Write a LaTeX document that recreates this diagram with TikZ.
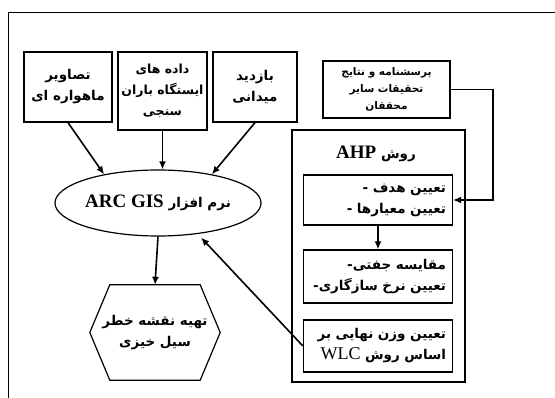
\documentclass[tikz,border=0pt]{standalone}
\usepackage{fontspec}
\usetikzlibrary{arrows.meta,shapes.geometric}
\TeXXeTstate=1
\newfontfamily\farsi[Script=Arabic]{DejaVu Sans}
\newfontfamily\latin{Liberation Serif}
\newcommand{\rtl}[1]{\beginR #1\endR}
\newcommand{\ltr}[1]{\beginL{\latin #1}\endL}

\begin{document}
\begin{tikzpicture}[
  x=1pt, y=-1pt,
  every node/.style={font=\farsi\bfseries\fontsize{13.5}{21}\selectfont},
  box/.style={draw, line width=1.2pt, rectangle, inner sep=0pt, align=center},
  small/.style={font=\farsi\bfseries\fontsize{10.5}{17}\selectfont},
  arr/.style={-{Latex[length=8pt,width=7pt]}, line width=1.6pt}
]
\useasboundingbox (0,0) rectangle (555,398);

% frame
\draw[line width=0.9pt] (555,12) -- (8,12) -- (8,398);

% Data sources (top row)
\node[box, minimum width=88pt, minimum height=70pt] (sat) at (68,87) {\rtl{تصاویر}\\\rtl{ماهواره ای}};
\node[box, font=\farsi\bfseries\fontsize{12.5}{21}\selectfont, minimum width=89pt, minimum height=78pt] (rain) at (162.5,91) {\rtl{داده های}\\\rtl{ایستگاه باران}\\\rtl{سنجی}};
\node[box, minimum width=84pt, minimum height=70pt] (field) at (255,87) {\rtl{بازدید}\\\rtl{میدانی}};
\node[box, small, minimum width=127pt, minimum height=57pt] (quest) at (386.5,89.5) {\rtl{پرسشنامه و نتایج}\\\rtl{تحقیقات سایر}\\\rtl{محققان}};

% GIS and output
\node[draw, line width=1.2pt, ellipse, minimum width=200pt, minimum height=66pt, inner sep=0pt] (gis) at (158,203) {\rtl{نرم افزار \ltr{\fontsize{19}{20}\selectfont ARC GIS}}};
\node[minimum width=130pt, minimum height=95pt, inner sep=0pt, align=center] (hazard) at (155,332.5) {\rtl{تهیه نقشه خطر}\\\rtl{سیل خیزی}};
\draw[line width=1.2pt] (hazard.west) -- ([xshift=20pt]hazard.north west) -- ([xshift=-20pt]hazard.north east)
  -- (hazard.east) -- ([xshift=-20pt]hazard.south east) -- ([xshift=20pt]hazard.south west) -- cycle;

% AHP block
\node[box, minimum width=173pt, minimum height=252pt] (ahp) at (378.5,256) {};
\node (ahptitle) at (376,154) {\rtl{روش \ltr{\fontsize{19}{20}\selectfont AHP}}};
\node[box, text width=136pt, align=right, minimum width=149pt, minimum height=50pt] (goal) at (378,200) {- \rtl{تعیین هدف}\\- \rtl{تعیین معیارها}};
\node[box, text width=136pt, align=right, minimum width=149pt, minimum height=53pt] (pair) at (378,276.5) {-\rtl{مقایسه جفتی}\\-\rtl{تعیین نرخ سازگاری}};
\node[box, text width=136pt, align=right, minimum width=149pt, minimum height=52pt] (wlc) at (378,346) {\rtl{تعیین وزن نهایی بر}\\\rtl{اساس روش \ltr{\mdseries\fontsize{18}{20}\selectfont WLC}}};

\coordinate (turn) at (493,200);

% connectors
\draw[arr] (sat.south) -- (gis.152);
\draw[arr] (rain.south) -- (rain.south |- gis.north);
\draw[arr] (field.south) -- (gis.28);
\draw[arr] (gis.south) -- (hazard.north);
\draw[arr] (quest.east) -| (turn) -- (goal.east);
\draw[arr] (goal.south) -- (pair.north);
\draw[arr, shorten >=5pt] (wlc.west) -- (gis.-38);

\end{tikzpicture}
\end{document}
